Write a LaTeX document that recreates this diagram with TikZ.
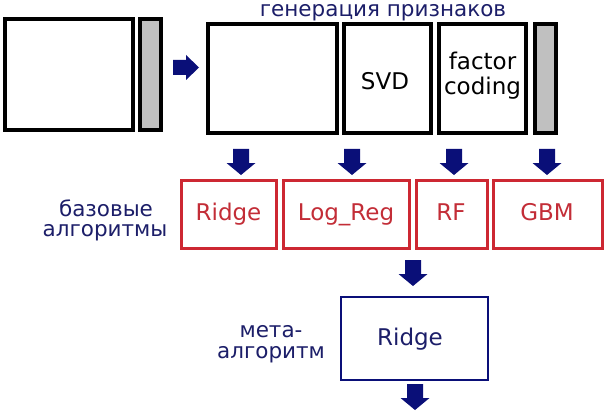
\documentclass[tikz,border=0pt]{standalone}
\usepackage{fontspec}
\setmainfont{DejaVu Sans}
\definecolor{navy}{RGB}{10,15,120}
\definecolor{navytext}{RGB}{28,30,105}
\definecolor{redb}{RGB}{205,40,50}
\definecolor{redt}{RGB}{195,45,55}
\definecolor{grayfill}{RGB}{192,192,192}
\begin{document}
\begin{tikzpicture}[x=1pt,y=-1pt,
  blk/.style={draw=black,line width=3.2pt,fill=white},
  bar/.style={draw=black,line width=3.2pt,fill=grayfill},
  redbox/.style={draw=redb,line width=3pt},
  metabox/.style={draw=navy,line width=2.8pt},
  lbl/.style={font=\fontsize{23}{25}\selectfont,text=black,anchor=base,inner sep=0pt},
  redlbl/.style={lbl,text=redt},
  navylbl/.style={font=\fontsize{21.5}{18}\selectfont,text=navytext,anchor=base,inner sep=0pt},
  darr/.pic={\fill[navy] (-8,0) -- (8,0) -- (8,14) -- (14.5,14) -- (0,26) -- (-14.5,14) -- (-8,14) -- cycle;},
  rarr/.pic={\fill[navy] (0,-7.5) -- (13,-7.5) -- (13,-12.5) -- (26,0) -- (13,12.5) -- (13,7.5) -- (0,7.5) -- cycle;},
]
\useasboundingbox (0,0) rectangle (604,414);
\fill[white] (0,0) rectangle (604,414);
% top row
\draw[blk] (5,19) rectangle (133,130);
\draw[bar] (140,19) rectangle (161,130);
\pic (ra) at (173,67.5) {rarr};
\draw[blk] (208,24) rectangle (337,133);
\draw[blk] (344,24) rectangle (431,133);
\node[lbl] (svd) at (385,90) {SVD};
\draw[blk] (439,24) rectangle (526,133);
\node[lbl] (fc1) at (482.5,70) {factor};
\node[lbl] (fc2) at (482.5,95) {coding};
\draw[bar] (535,24) rectangle (556,133);
\node[navylbl] (gen) at (383,17) {генерация признаков};
% arrows down
\pic (d1) at (241,149) {darr};
\pic (d2) at (352,149) {darr};
\pic (d3) at (454,149) {darr};
\pic (d4) at (547,149) {darr};
% base algorithms
\draw[redbox] (181,180) rectangle (276,248);
\node[redlbl] (ridge1) at (228.5,220) {Ridge};
\draw[redbox] (283,180) rectangle (409,248);
\node[redlbl] (logreg) at (346,220) {Log\_Reg};
\draw[redbox] (416,180) rectangle (487,248);
\node[redlbl] (rf) at (451,220) {RF};
\draw[redbox] (493,180) rectangle (602,248);
\node[redlbl] (gbm) at (547,220) {GBM};
\node[navylbl] (base1) at (106,216) {базовые};
\node[navylbl] (base2) at (105,236) {алгоритмы};
% meta
\pic (d5) at (413,260) {darr};
\draw[metabox] (341,297) rectangle (488,380);
\node[lbl,text=navytext] (ridge2) at (410,345) {Ridge};
\node[navylbl] (meta1) at (271,337) {мета-};
\node[navylbl] (meta2) at (271,358) {алгоритм};
\pic (d6) at (415,384) {darr};
\end{tikzpicture}
\end{document}
